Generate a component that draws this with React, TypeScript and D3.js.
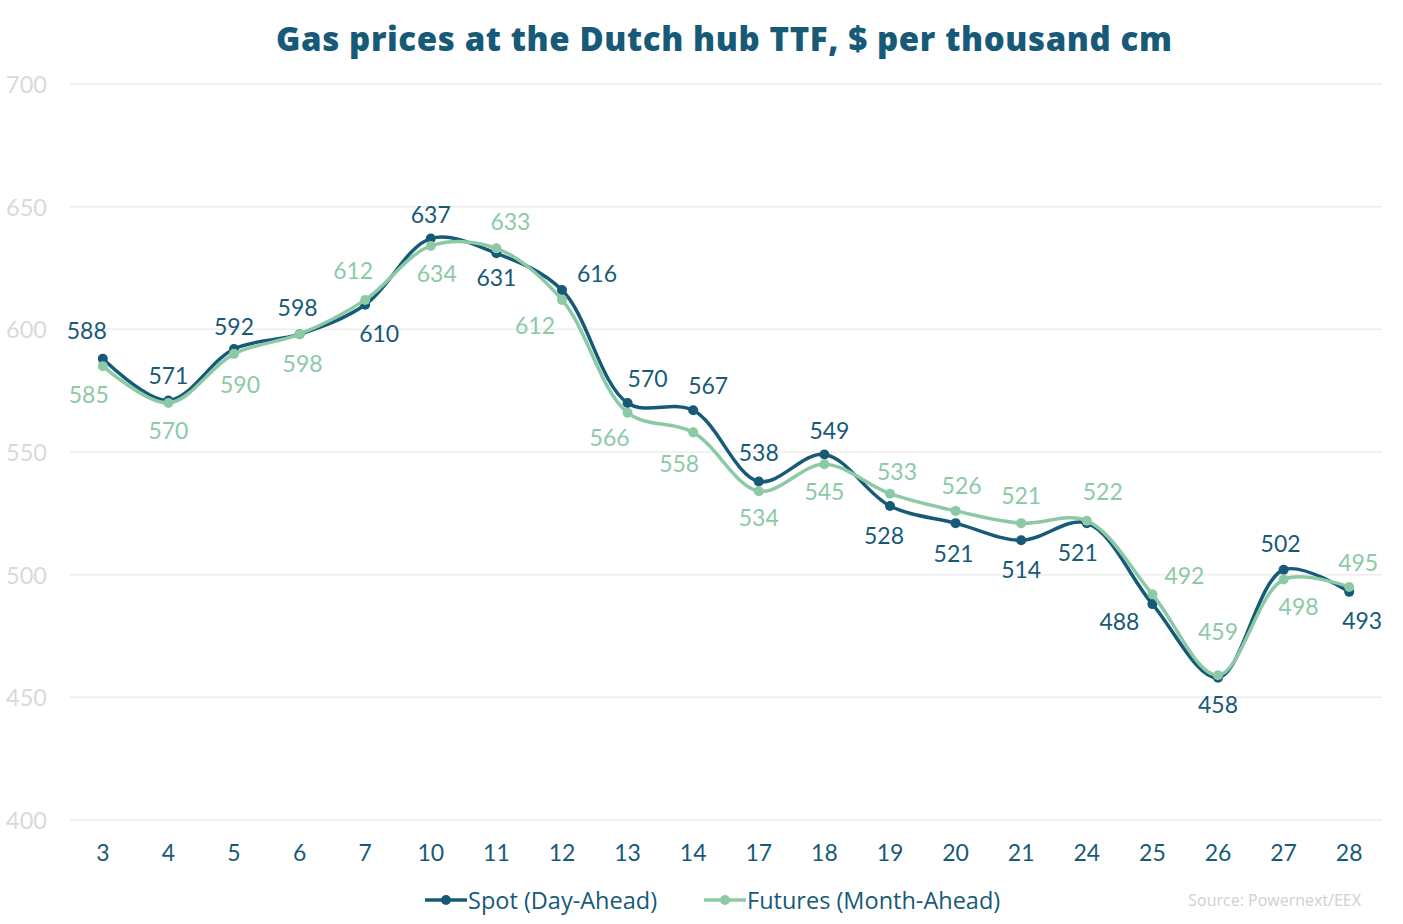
import React, { useEffect, useRef } from 'react';
import * as d3 from 'd3';

const days = ['3', '4', '5', '6', '7', '10', '11', '12', '13', '14', '17', '18', '19', '20', '21', '24', '25', '26', '27', '28'];
const spot = [588, 571, 592, 598, 610, 637, 631, 616, 570, 567, 538, 549, 528, 521, 514, 521, 488, 458, 502, 493];
const futures = [585, 570, 590, 598, 612, 634, 633, 612, 566, 558, 534, 545, 533, 526, 521, 522, 492, 459, 498, 495];
const yTicks = [400, 450, 500, 550, 600, 650, 700];

// label offsets (dx, dy of the label centre relative to the point)
const spotLabelPos: [number, number][] = [
  [-16, -29], [0, -25], [0, -23], [-2, -27], [14, 28], [0, -25], [0, 24], [35, -17], [20, -25], [15, -25],
  [0, -29], [5, -24], [-6, 29], [-2, 30], [0, 29], [-9, 29], [-33, 17], [0, 26], [-3, -27], [13, 28],
];
const futLabelPos: [number, number][] = [
  [-14, 28], [0, 27], [6, 30], [3, 29], [-12, -30], [6, 27], [14, -27], [-27, 25], [-18, 24], [-14, 31],
  [0, 26], [0, 27], [7, -23], [6, -26], [0, -28], [16, -30], [32, -19], [0, -44], [15, 26], [9, -25],
];

const SPOT = '#175a78';
const FUT = '#8ccaa6';
const TXT = '#175a78';

const App: React.FC = () => {
  const svgRef = useRef<SVGSVGElement>(null);

  useEffect(() => {
    if (!svgRef.current) return;
    const svg = d3.select(svgRef.current);
    svg.selectAll('*').remove();

    const left = 70, right = 1382, top = 84, bottom = 820;

    const x = d3.scalePoint<string>().domain(days).range([left, right]).padding(0.5);
    const y = d3.scaleLinear().domain([400, 700]).range([bottom, top]);

    // Title
    svg.append('text')
      .attr('x', 724).attr('y', 38)
      .attr('text-anchor', 'middle').attr('dominant-baseline', 'central')
      .attr('font-family', 'Open Sans').attr('font-weight', 800).attr('font-size', 33)
      .attr('fill', TXT)
      .attr('textLength', 896).attr('lengthAdjust', 'spacing')
      .text('Gas prices at the Dutch hub TTF, $ per thousand cm');

    // Grid
    svg.append('g').selectAll('line').data(yTicks).join('line')
      .attr('x1', left).attr('x2', right)
      .attr('y1', d => y(d)).attr('y2', d => y(d))
      .attr('stroke', '#ececec').attr('stroke-width', 1.5);

    svg.append('g').selectAll('text').data(yTicks).join('text')
      .attr('x', 47).attr('y', d => y(d))
      .attr('text-anchor', 'end').attr('dominant-baseline', 'central')
      .attr('font-family', 'Lato').attr('font-size', 23.5).attr('fill', '#d9d9d9')
      .text(d => d);

    svg.append('g').selectAll('text').data(days).join('text')
      .attr('x', d => x(d)!).attr('y', 852)
      .attr('text-anchor', 'middle').attr('dominant-baseline', 'central')
      .attr('font-family', 'Lato').attr('font-size', 23).attr('fill', TXT)
      .text(d => d);

    const line = d3.line<number>()
      .x((_, i) => x(days[i])!)
      .y(d => y(d))
      .curve(d3.curveCatmullRom.alpha(0.5));

    const series = [
      { data: spot, color: SPOT, pos: spotLabelPos },
      { data: futures, color: FUT, pos: futLabelPos },
    ];

    series.forEach(s => {
      svg.append('path').datum(s.data)
        .attr('fill', 'none').attr('stroke', s.color).attr('stroke-width', 3.5)
        .attr('d', line);
      svg.append('g').selectAll('circle').data(s.data).join('circle')
        .attr('cx', (_, i) => x(days[i])!).attr('cy', d => y(d)).attr('r', 5)
        .attr('fill', s.color);
    });

    series.forEach(s => {
      svg.append('g').selectAll('text').data(s.data).join('text')
        .attr('x', (_, i) => x(days[i])! + s.pos[i][0])
        .attr('y', (d, i) => y(d) + s.pos[i][1])
        .attr('text-anchor', 'middle').attr('dominant-baseline', 'central')
        .attr('font-family', 'Lato').attr('font-size', 23).attr('fill', s.color)
        .text(d => d);
    });

    // Legend
    const legend = [
      { name: 'Spot (Day-Ahead)', color: SPOT, x: 425 },
      { name: 'Futures (Month-Ahead)', color: FUT, x: 704 },
    ];
    legend.forEach(l => {
      svg.append('line')
        .attr('x1', l.x).attr('x2', l.x + 42).attr('y1', 900).attr('y2', 900)
        .attr('stroke', l.color).attr('stroke-width', 3.5);
      svg.append('circle').attr('cx', l.x + 21).attr('cy', 900).attr('r', 5).attr('fill', l.color);
      svg.append('text')
        .attr('x', l.x + 43).attr('y', 900)
        .attr('dominant-baseline', 'central')
        .attr('font-family', 'Open Sans').attr('font-size', 23.5).attr('fill', TXT)
        .text(l.name);
    });

    svg.append('text')
      .attr('x', 1361).attr('y', 900)
      .attr('text-anchor', 'end').attr('dominant-baseline', 'central')
      .attr('font-family', 'Open Sans').attr('font-size', 16).attr('fill', '#d0d0d0')
      .text('Source: Powernext/EEX');
  }, []);

  return (
    <div style={{ position: 'absolute', left: 0, top: 0, background: '#fff' }}>
      <svg ref={svgRef} width={1403} height={924} style={{ display: 'block' }} />
    </div>
  );
};

export default App;
